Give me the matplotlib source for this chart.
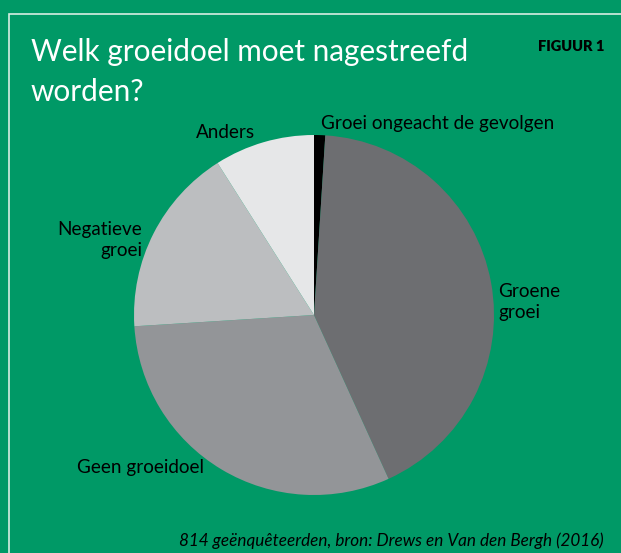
import matplotlib.pyplot as plt
from matplotlib.patches import Rectangle

# data
labels = ['Groei ongeacht de gevolgen', 'Groene\ngroei', 'Geen groeidoel', 'Negatieve\ngroei', 'Anders']
values = [1, 42.2, 30.8, 17, 9]
colors = ['#000000', '#6d6e71', '#939598', '#bcbec0', '#e6e7e8']

W, H = 621, 553
green = '#009966'

fig = plt.figure(figsize=(W / 100, H / 100), dpi=100, facecolor=green)
plt.rcParams['font.family'] = ['Lato', 'DejaVu Sans']

def px(x, y):
    return x / W, 1 - y / H

# white frame, running off the right and bottom edge
fig.patches.append(Rectangle(px(9, 600), 700 / W, 586 / H, transform=fig.transFigure,
                             fill=False, edgecolor='#d8eee2', lw=1.2))

# pie, centre at (314, 315), radius 180 px
cx, cy, r = 314, 315, 180
ax = fig.add_axes([(cx - r) / W, 1 - (cy + r) / H, 2 * r / W, 2 * r / H])
ax.pie(values, colors=colors, startangle=90, counterclock=False, radius=1,
       wedgeprops=dict(linewidth=0))
ax.set_xlim(-1, 1)
ax.set_ylim(-1, 1)
ax.set_aspect('auto')
ax.axis('off')

fig.text(*px(31, 52), 'Welk groeidoel moet nagestreefd', color='white',
         fontsize=21.4, va='center', ha='left')
fig.text(*px(31, 92), 'worden?', color='white',
         fontsize=21.4, va='center', ha='left')
fig.text(*px(604, 47), 'FIGUUR 1', fontsize=10.5, fontweight='heavy', ha='right', va='center')

lab_kw = dict(fontsize=13.6, color='black')
fig.text(*px(321, 124), labels[0], ha='left', va='center', **lab_kw)
fig.text(*px(498, 302), labels[1], ha='left', va='center', linespacing=1.25, **lab_kw)
fig.text(*px(77, 467), labels[2], ha='left', va='center', **lab_kw)
fig.text(*px(142, 240), labels[3], ha='right', va='center', linespacing=1.25,
         multialignment='right', **lab_kw)
fig.text(*px(226, 132), labels[4], ha='center', va='center', **lab_kw)

fig.text(*px(604, 541), '814 geënquêteerden, bron: Drews en Van den Bergh (2016)',
         fontsize=12.3, style='italic', ha='right', va='center')

fig.savefig('out.png', dpi=100, facecolor=green)
